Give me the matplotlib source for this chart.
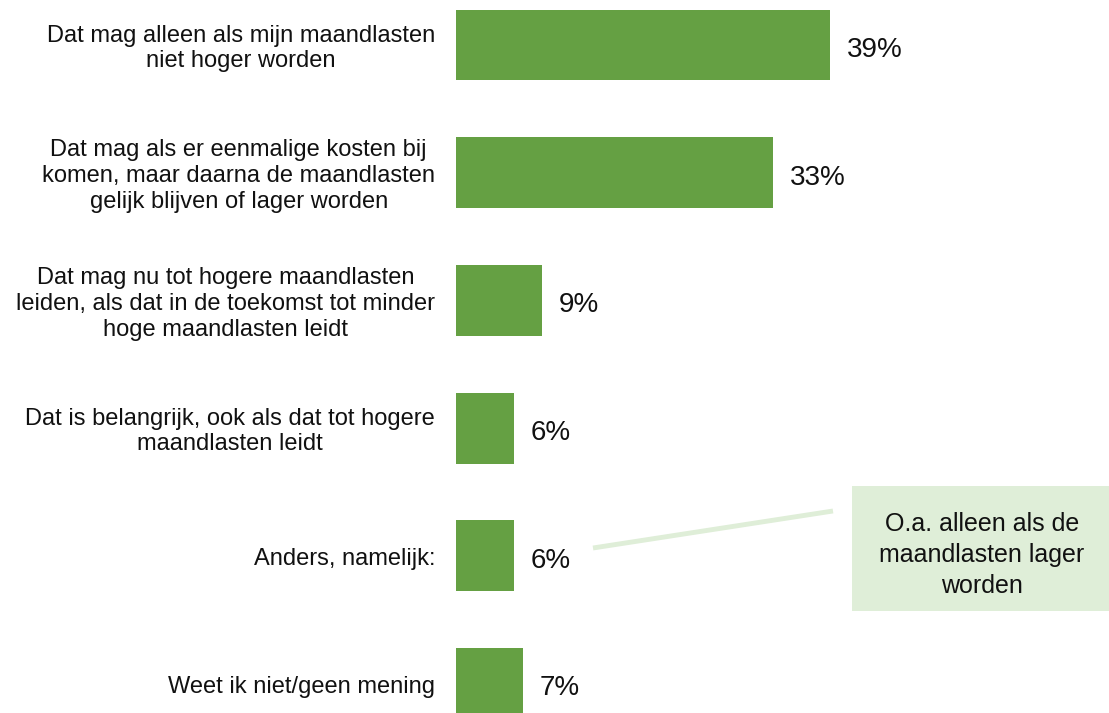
import matplotlib.pyplot as plt
from matplotlib.patches import Rectangle
from matplotlib.lines import Line2D

categories = [
    "Dat mag alleen als mijn maandlasten\nniet hoger worden",
    "Dat mag als er eenmalige kosten bij\nkomen, maar daarna de maandlasten\ngelijk blijven of lager worden",
    "Dat mag nu tot hogere maandlasten\nleiden, als dat in de toekomst tot minder\nhoge maandlasten leidt",
    "Dat is belangrijk, ook als dat tot hogere\nmaandlasten leidt",
    "Anders, namelijk:",
    "Weet ik niet/geen mening",
]
shares = [39, 33, 9, 6, 6, 7]
callout_text = "O.a. alleen als de\nmaandlasten lager\nworden"

BAR_GREEN = "#65a043"
LIGHT_GREEN = "#dfeed8"

plt.rcParams["font.family"] = ["Liberation Sans", "DejaVu Sans"]

W, H = 1109, 713
fig = plt.figure(figsize=(W / 100, H / 100), dpi=100)
ax = fig.add_axes([456 / W, 0, (W - 456) / W, 1])

pos = list(range(len(categories)))
ax.barh(pos, shares, height=0.555, color=BAR_GREEN)
ax.set_xlim(0, (W - 456) / 9.6)
ax.set_ylim(5.231, -0.352)
ax.axis("off")

for y, v, lab in zip(pos, shares, categories):
    ax.annotate(f"{v}%", xy=(v, y), xytext=(12, -3.5), textcoords="offset points",
                ha="left", va="center", fontsize=20, color="#111111")
    ax.annotate(lab, xy=(0, y), xytext=(-15, -2.5), textcoords="offset points",
                ha="right", va="center", multialignment="center", fontsize=17,
                color="#111111", linespacing=1.22, annotation_clip=False)

# callout box with connector line
fig.add_artist(Line2D([593 / W, 833 / W], [1 - 548 / H, 1 - 511 / H],
                      transform=fig.transFigure, color=LIGHT_GREEN, lw=3.5,
                      solid_capstyle="butt"))
fig.add_artist(Rectangle((852 / W, 1 - 611 / H), (W - 852) / W, 125 / H,
                         transform=fig.transFigure, facecolor=LIGHT_GREEN,
                         edgecolor="none"))
fig.text(982 / W, 1 - 555 / H, callout_text, ha="center", va="center",
         fontsize=18, color="#111111", linespacing=1.39)

fig.savefig("out.png", dpi=100)
